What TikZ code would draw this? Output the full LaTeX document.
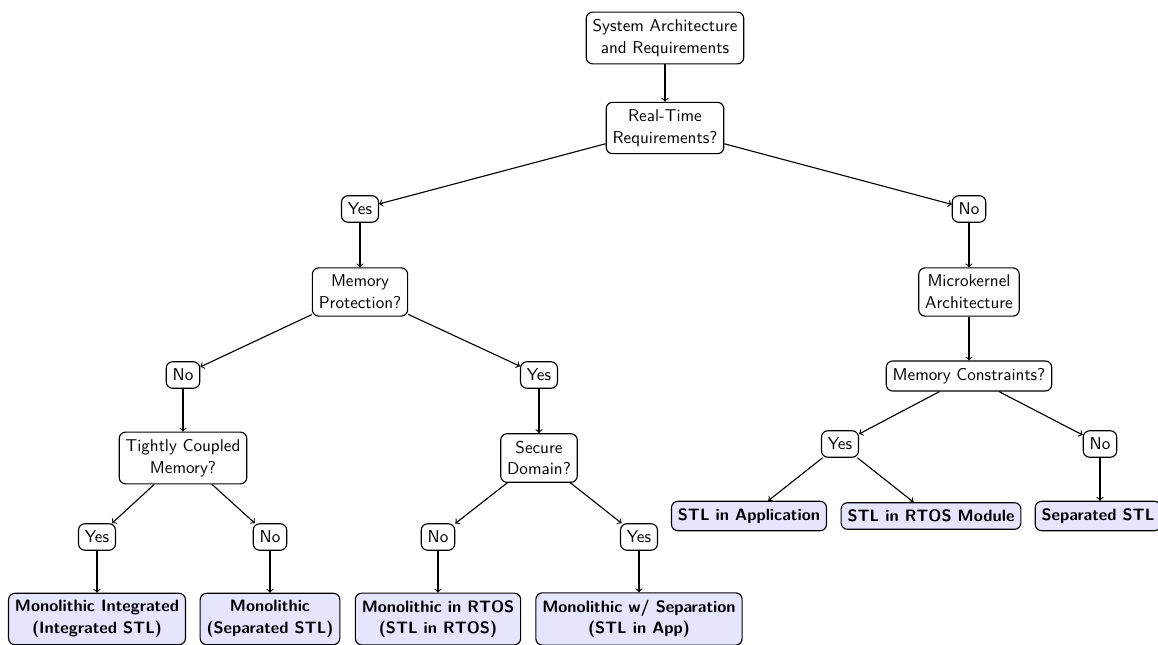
\documentclass[tikz,border=0pt]{standalone}
\begin{document}
\begin{tikzpicture}[x=0.625pt,y=-0.625pt,
  box/.style={draw, line width=0.7pt, rounded corners=4pt, align=center,
    font=\fontsize{10.7}{13.6}\selectfont\sffamily, inner xsep=4pt, inner ysep=4.5pt},
  leaf/.style={box, fill=blue!10, font=\fontsize{10.3}{13.4}\selectfont\sffamily\bfseries},
  arr/.style={->, line width=0.7pt}]
\useasboundingbox (0,0) rectangle (1158,645);
% decision tree
\node[box] (root) at (665,38) {System Architecture\\and Requirements};
\node[box] (rt) at (665,128) {Real-Time\\Requirements?};
\node[box] (yes1) at (360,209) {Yes};
\node[box] (no1) at (969,209) {No};
\node[box] (mp) at (360,292) {Memory\\Protection?};
\node[box] (mk) at (969,292) {Microkernel\\Architecture};
\node[box] (no2) at (183,375) {No};
\node[box] (yes2) at (539,375) {Yes};
\node[box] (mc) at (969,376) {Memory Constraints?};
\node[box] (tcm) at (183,458) {Tightly Coupled\\Memory?};
\node[box] (sd) at (539,458) {Secure\\Domain?};
\node[box] (yes3) at (840,444) {Yes};
\node[box] (no3) at (1100,444) {No};
\node[box] (yes4) at (97,537) {Yes};
\node[box] (no4) at (270,537) {No};
\node[box] (no5) at (438,537) {No};
\node[box] (yes5) at (639,537) {Yes};
\node[leaf] (app) at (749,516) {STL in Application};
\node[leaf] (mod) at (931,516) {STL in RTOS Module};
\node[leaf] (sep) at (1098,516) {Separated STL};
\node[leaf] (mi) at (97,619) {Monolithic Integrated\\(Integrated STL)};
\node[leaf] (ms) at (270,619) {Monolithic\\(Separated STL)};
\node[leaf] (mr) at (438,619) {Monolithic in RTOS\\(STL in RTOS)};
\node[leaf] (mw) at (639,619) {Monolithic w/ Separation\\(STL in App)};
% connectors
\draw[arr] (root) -- (rt);
\draw[arr] (rt) -- (yes1);
\draw[arr] (rt) -- (no1);
\draw[arr] (yes1) -- (mp);
\draw[arr] (no1) -- (mk);
\draw[arr] (mp) -- (no2);
\draw[arr] (mp) -- (yes2);
\draw[arr] (no2) -- (tcm);
\draw[arr] (yes2) -- (sd);
\draw[arr] (tcm) -- (yes4);
\draw[arr] (tcm) -- (no4);
\draw[arr] (sd) -- (no5);
\draw[arr] (sd) -- (yes5);
\draw[arr] (yes4) -- (mi);
\draw[arr] (no4) -- (ms);
\draw[arr] (no5) -- (mr);
\draw[arr] (yes5) -- (mw);
\draw[arr] (mk) -- (mc);
\draw[arr] (mc) -- (yes3);
\draw[arr] (mc) -- (no3);
\draw[arr] (yes3) -- (app);
\draw[arr] (yes3) -- (mod);
\draw[arr] (no3) -- (no3 |- sep.north);
\end{tikzpicture}
\end{document}
